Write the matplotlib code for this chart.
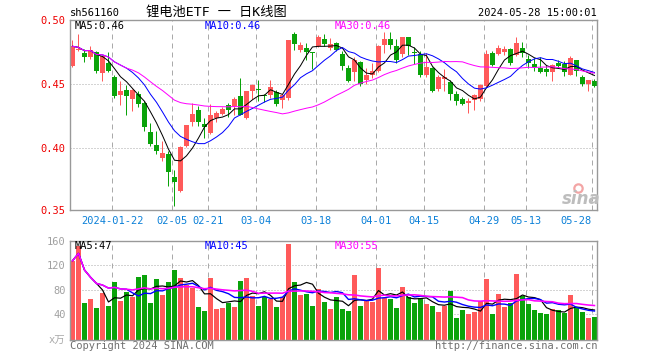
import numpy as np
import pandas as pd
import matplotlib
matplotlib.use('Agg')
import matplotlib.pyplot as plt
from matplotlib.lines import Line2D

plt.rcParams['font.family'] = ['DejaVu Sans Mono', 'Noto Sans CJK SC']

# daily candles 2024-01-11 .. 2024-05-28
opens = [0.4646, 0.4771, 0.4747, 0.4711, 0.4750, 0.4589, 0.4667, 0.4557, 0.4414, 0.4458,
         0.4385, 0.4424, 0.4354, 0.4128, 0.4029, 0.3925, 0.3956, 0.3773, 0.3669, 0.4016,
         0.4206, 0.4302, 0.4188, 0.4120, 0.4237, 0.4268, 0.4341, 0.4328, 0.4406, 0.4237,
         0.4451, 0.4464, 0.4419, 0.4419, 0.4440, 0.4380, 0.4393, 0.4893, 0.4771, 0.4784,
         0.4750, 0.4797, 0.4857, 0.4784, 0.4823, 0.4740, 0.4628, 0.4594, 0.4672, 0.4536,
         0.4570, 0.4602, 0.4805, 0.4854, 0.4797, 0.4737, 0.4870, 0.4747, 0.4737, 0.4570,
         0.4628, 0.4464, 0.4544, 0.4516, 0.4424, 0.4388, 0.4352, 0.4378, 0.4385, 0.4484,
         0.4747, 0.4740, 0.4753, 0.4776, 0.4732, 0.4784, 0.4701, 0.4659, 0.4628, 0.4622,
         0.4594, 0.4664, 0.4661, 0.4576, 0.4687, 0.4555, 0.4503, 0.4529]
highs = [0.4849, 0.4893, 0.4779, 0.4797, 0.4758, 0.4732, 0.4753, 0.4576, 0.4529, 0.4497,
         0.4466, 0.4451, 0.4367, 0.4198, 0.4133, 0.4055, 0.3982, 0.3833, 0.4016, 0.4185,
         0.4354, 0.4328, 0.4237, 0.4346, 0.4289, 0.4320, 0.4354, 0.4398, 0.4549, 0.4451,
         0.4503, 0.4536, 0.4424, 0.4536, 0.4458, 0.4424, 0.4846, 0.4909, 0.4831, 0.4823,
         0.4753, 0.4883, 0.4893, 0.4862, 0.4831, 0.4758, 0.4654, 0.4711, 0.4685, 0.4628,
         0.4667, 0.4810, 0.4909, 0.4909, 0.4857, 0.4870, 0.4870, 0.4789, 0.4758, 0.4745,
         0.4633, 0.4576, 0.4622, 0.4536, 0.4451, 0.4398, 0.4393, 0.4424, 0.4503, 0.4771,
         0.4758, 0.4805, 0.4797, 0.4784, 0.4870, 0.4828, 0.4727, 0.4706, 0.4711, 0.4654,
         0.4659, 0.4693, 0.4680, 0.4719, 0.4693, 0.4576, 0.4536, 0.4542]
lows = [0.4635, 0.4758, 0.4674, 0.4701, 0.4589, 0.4523, 0.4596, 0.4393, 0.4341, 0.4263,
        0.4294, 0.4320, 0.4133, 0.4016, 0.3956, 0.3904, 0.3703, 0.3547, 0.3659, 0.4008,
        0.4172, 0.4172, 0.4083, 0.4112, 0.4206, 0.4258, 0.4242, 0.4263, 0.4258, 0.4232,
        0.4388, 0.4367, 0.4362, 0.4393, 0.4333, 0.4315, 0.4380, 0.4771, 0.4753, 0.4693,
        0.4622, 0.4789, 0.4797, 0.4771, 0.4758, 0.4615, 0.4518, 0.4523, 0.4490, 0.4503,
        0.4549, 0.4596, 0.4745, 0.4779, 0.4667, 0.4711, 0.4727, 0.4661, 0.4555, 0.4555,
        0.4440, 0.4451, 0.4445, 0.4380, 0.4341, 0.4336, 0.4279, 0.4302, 0.4367, 0.4477,
        0.4641, 0.4732, 0.4732, 0.4654, 0.4724, 0.4711, 0.4628, 0.4602, 0.4591, 0.4562,
        0.4529, 0.4628, 0.4562, 0.4570, 0.4562, 0.4490, 0.4451, 0.4477]
closes = [0.4797, 0.4779, 0.4711, 0.4768, 0.4607, 0.4719, 0.4607, 0.4411, 0.4451, 0.4411,
          0.4458, 0.4349, 0.4167, 0.4036, 0.3982, 0.3964, 0.3815, 0.3737, 0.4010, 0.4180,
          0.4268, 0.4206, 0.4164, 0.4263, 0.4276, 0.4310, 0.4302, 0.4388, 0.4263, 0.4445,
          0.4497, 0.4456, 0.4411, 0.4477, 0.4346, 0.4414, 0.4846, 0.4815, 0.4805, 0.4750,
          0.4742, 0.4870, 0.4815, 0.4815, 0.4771, 0.4641, 0.4529, 0.4693, 0.4503, 0.4570,
          0.4607, 0.4802, 0.4854, 0.4807, 0.4693, 0.4870, 0.4802, 0.4742, 0.4570, 0.4635,
          0.4451, 0.4557, 0.4555, 0.4424, 0.4372, 0.4346, 0.4372, 0.4414, 0.4497, 0.4737,
          0.4654, 0.4784, 0.4776, 0.4667, 0.4823, 0.4742, 0.4667, 0.4633, 0.4596, 0.4594,
          0.4654, 0.4641, 0.4594, 0.4706, 0.4607, 0.4505, 0.4534, 0.4490]
# volume in 万
volumes = [127.3, 151.3, 58.0, 65.0, 49.8, 74.4, 53.0, 92.4, 61.3, 76.0,
           67.8, 100.5, 103.8, 58.0, 97.3, 71.0, 92.4, 112.5, 98.4, 88.5,
           83.0, 51.4, 44.9, 99.5, 48.7, 50.3, 58.0, 52.0, 94.5, 98.9,
           69.4, 53.0, 67.8, 65.0, 52.0, 67.8, 155.0, 92.4, 71.0, 73.2,
           53.6, 81.4, 60.0, 48.7, 67.8, 48.2, 44.9, 103.8, 53.6, 61.3,
           59.6, 115.2, 66.7, 65.0, 50.3, 84.2, 67.8, 58.5, 66.7, 56.4,
           53.0, 43.3, 54.2, 78.2, 34.0, 46.5, 40.5, 43.3, 61.3, 97.3,
           40.0, 72.7, 51.4, 58.0, 105.4, 69.4, 56.4, 46.5, 41.6, 40.0,
           48.2, 46.5, 41.6, 71.0, 51.4, 43.3, 34.0, 35.0]

tick_idx = [7, 17, 23, 31, 41, 51, 59, 69, 76, 87]
tick_lab = ['2024-01-22', '02-05', '02-21', '03-04', '03-18',
            '04-01', '04-15', '04-29', '05-13', '05-28']

UP = '#ff5a5a'
DOWN = '#0aa30a'
GRID = '#aaaaaa'
PX = 0.72  # one pixel in points

o, h, l, c = map(np.array, (opens, highs, lows, closes))
vol = np.array(volumes)
x = np.arange(len(c))
colors = np.where(c >= o, UP, DOWN)

fig = plt.figure(figsize=(6.6, 3.6), dpi=100)
W, H = 660, 360


def ftext(px, py, s, **kw):
    fig.text(px / W, 1 - py / H, s, **kw)


ax = fig.add_axes([70 / W, 1 - 210 / H, 527 / W, 190 / H])
av = fig.add_axes([70 / W, 1 - 340.3 / H, 527 / W, 99.6 / H])

xmin, xmax = -2.5 / 6, 87.42
grid_x = np.array(tick_idx) - 0.4

# --- price panel
ax.vlines(x, l, h, colors=colors, lw=PX)
body_h = np.maximum(np.abs(c - o), 0.0007)
ax.bar(x, body_h, bottom=np.minimum(o, c), width=5 / 6, color=colors, linewidth=0)

s = pd.Series(c)
ax.plot(x, s.rolling(5, min_periods=1).mean(), color='black', lw=PX)
ax.plot(x, s.rolling(10, min_periods=1).mean(), color='#0000ff', lw=PX)
ax.plot(x, s.rolling(30, min_periods=1).mean(), color='#ff00ff', lw=PX)

ybot = 0.3518
ax.set_ylim(ybot, 0.5002)
ax.set_yticks([ybot, 0.40, 0.45, 0.50], ['0.35', '0.40', '0.45', '0.50'])
ax.set_xlim(xmin, xmax)
ax.set_xticks(grid_x, tick_lab)
ax.get_xticklabels()[-1].set_ha('right')
ax.tick_params(axis='x', length=0, pad=4, labelsize=7.5, labelcolor='#0b80d8')
ax.tick_params(axis='y', length=0, pad=3, labelsize=7.5, labelcolor='#ee0000')
ax.grid(axis='x', color=GRID, lw=PX, linestyle=(0, (5, 4)))
ax.grid(axis='y', color=GRID, lw=PX, linestyle=(0, (1, 2)))
ax.set_axisbelow(True)

# --- volume panel
vbot = -2.5
av.bar(x, vol - vbot, bottom=vbot, width=5 / 6, color=colors, linewidth=0)
vs = pd.Series(vol)
av.plot(x, vs.rolling(5, min_periods=1).mean(), color='black', lw=PX * 1.2)
av.plot(x, vs.rolling(10, min_periods=1).mean(), color='#0000ff', lw=PX * 1.4)
av.plot(x, vs.rolling(30, min_periods=1).mean(), color='#ff00ff', lw=PX * 1.6)
av.set_ylim(vbot, 160)
av.set_yticks([40, 80, 120, 160])
av.set_xlim(xmin, xmax)
av.set_xticks(grid_x, [])
av.tick_params(axis='x', length=0)
av.tick_params(axis='y', length=0, pad=3, labelsize=7.5, labelcolor='#a0a0a0')
av.grid(axis='x', color=GRID, lw=PX, linestyle=(0, (5, 4)))
av.grid(axis='y', color=GRID, lw=PX, linestyle=(0, (1, 2)))
av.set_axisbelow(True)

for a in (ax, av):
    for sp in a.spines.values():
        sp.set_color('#999999')
        sp.set_linewidth(1.0)

# --- texts
ftext(70, 13, 'sh561160', fontsize=7.5, va='center')
ftext(216, 12, '锂电池ETF 一 日K线图', fontsize=9.5, ha='center', va='center')
ftext(597, 13, '2024-05-28 15:00:01', fontsize=7.5, ha='right', va='center')

ftext(75, 26, 'MA5:0.46', fontsize=7.5, va='center', color='black')
ftext(205, 26, 'MA10:0.46', fontsize=7.5, va='center', color='#0000ff')
ftext(335, 26, 'MA30:0.46', fontsize=7.5, va='center', color='#ff00ff')

ftext(75, 246, 'MA5:47', fontsize=7.5, va='center', color='black')
ftext(205, 246, 'MA10:45', fontsize=7.5, va='center', color='#0000ff')
ftext(335, 246, 'MA30:55', fontsize=7.5, va='center', color='#ff00ff')

ftext(65, 341, 'x万', fontsize=7.5, ha='right', va='center', color='#aaaaaa')
ftext(70, 346, 'Copyright 2024 SINA.COM', fontsize=7.5, va='center', color='#707070')
ftext(597, 346, 'http://finance.sina.com.cn', fontsize=7.5, ha='right', va='center',
      color='#707070')

# sina watermark
ftext(581, 199, 'sina', fontsize=12, ha='center', va='center', color='#bdbdbd',
      family='DejaVu Sans', style='italic', weight='bold')
fig.add_artist(Line2D([578 / W], [1 - 188 / H], marker='o', ms=6, mfc='none',
                      mec='#f3a5a5', mew=1.6, transform=fig.transFigure))

fig.savefig('out.png', dpi=100)
